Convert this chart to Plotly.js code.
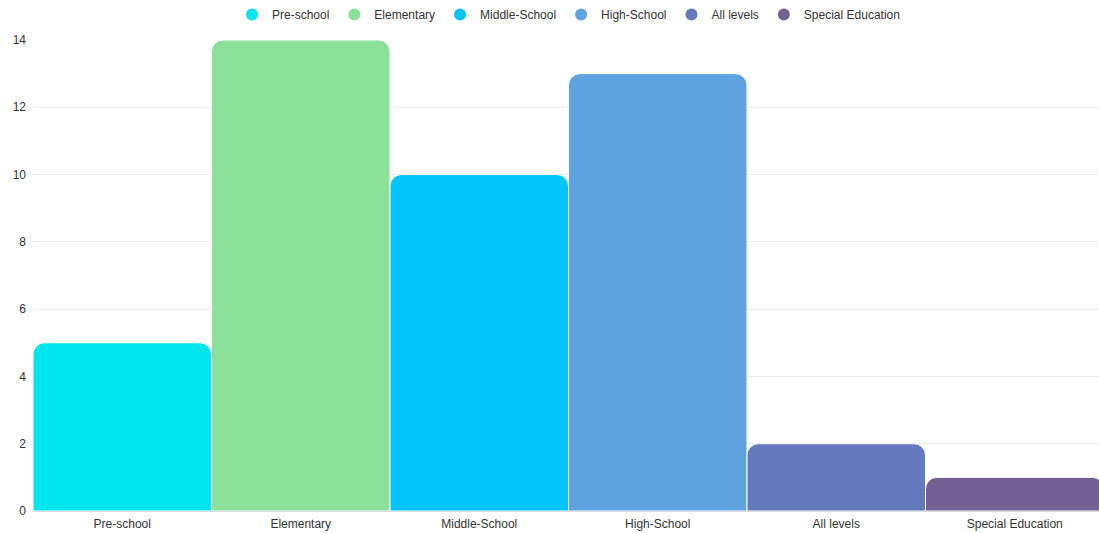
<!DOCTYPE html>
<html>
<head>
<meta charset="utf-8">
<script src="https://cdn.plot.ly/plotly-3.0.1.min.js"></script>
<style>html,body{margin:0;padding:0;background:#fff;overflow:hidden;width:1099px;height:533px}</style>
</head>
<body>
<div id="chart" style="width:1104px;height:533px"></div>
<script>
var categories = ["Pre-school", "Elementary", "Middle-School", "High-School", "All levels", "Special Education"];
var values = [5, 14, 10, 13, 2, 1];
var colors = ["#00E5EE", "#8BE09A", "#00C4FA", "#5EA3E0", "#657ABE", "#756094"];
var yTicks = [0, 2, 4, 6, 8, 10, 12, 14];

var traces = [];
categories.forEach(function (c, i) {
  traces.push({
    type: "bar", x: [c], y: [values[i]], name: c, legendgroup: c, showlegend: false,
    marker: { color: colors[i], line: { color: "#ffffff", width: 1 } },
    hoverinfo: "x+y"
  });
});
categories.forEach(function (c, i) {
  traces.push({
    type: "scatter", mode: "markers", x: [null], y: [null], name: c, legendgroup: c,
    marker: { color: colors[i], size: 12, symbol: "circle" }, hoverinfo: "skip"
  });
});

var layout = {
  width: 1104, height: 533,
  margin: { l: 33, r: 0, t: 40, b: 22 },
  paper_bgcolor: "#ffffff", plot_bgcolor: "#ffffff",
  font: { family: "Liberation Sans, Arial, sans-serif", size: 12, color: "#333333" },
  barmode: "overlay", bargap: 0, barcornerradius: 12,
  showlegend: true,
  legend: { orientation: "h", x: 0.5, xanchor: "center", y: 1, yanchor: "top", yref: "container",
            font: { size: 12, color: "#333333" }, itemwidth: 30, tracegroupgap: 0 },
  xaxis: { type: "category", categoryorder: "array", categoryarray: categories,
           showgrid: false, zeroline: false, showline: false, ticks: "", automargin: false,
           ticklabelstandoff: 4,
           tickfont: { size: 12, color: "#333333" } },
  yaxis: { range: [0, 14], tickvals: yTicks, ticktext: yTicks.map(String),
           showgrid: true, gridcolor: "#ebebeb", gridwidth: 1, zeroline: true, zerolinecolor: "#dcdcdc",
           showline: false, ticks: "", ticklabelstandoff: 6, automargin: false,
           tickfont: { size: 12, color: "#333333" } }
};

Plotly.newPlot("chart", traces, layout, { displayModeBar: false, staticPlot: true });
</script>
</body>
</html>
